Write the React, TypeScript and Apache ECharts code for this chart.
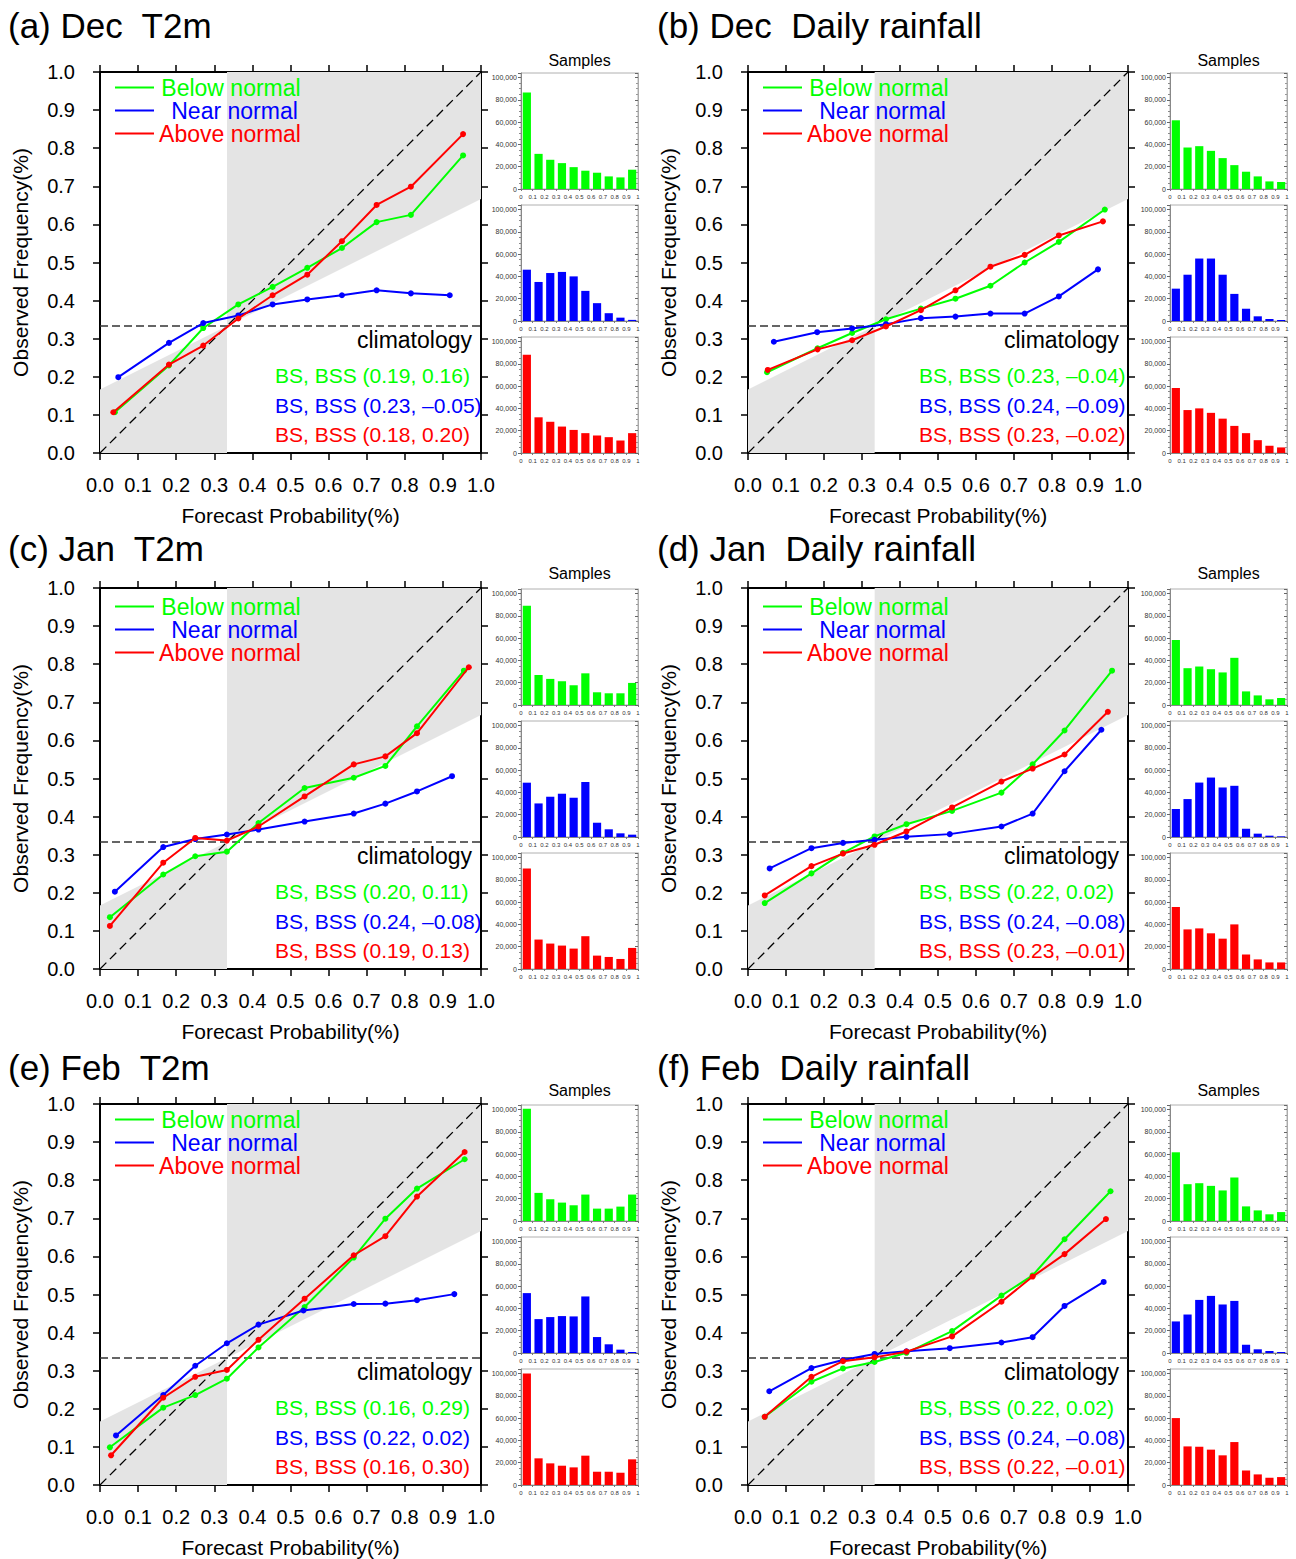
import React, { useEffect, useRef } from 'react';
import * as echarts from 'echarts';

const FONT = '"Liberation Sans", Arial, Helvetica, sans-serif';
const CLIM = 1 / 3;
const CAT_NAMES = ['Below normal', 'Near normal', 'Above normal'];
const CAT_COLORS = ['#00ff00', '#0000ff', '#ff0000'];
const SHADE = '#e4e4e4';
const PANEL_TITLES = [
  '(a) Dec  T2m', '(b) Dec  Daily rainfall',
  '(c) Jan  T2m', '(d) Jan  Daily rainfall',
  '(e) Feb  T2m', '(f) Feb  Daily rainfall',
];
const HIST_BINS = [0.05, 0.15, 0.25, 0.35, 0.45, 0.55, 0.65, 0.75, 0.85, 0.95];

// (a) Dec T2m
const decT2mBelowX = [0.039, 0.181, 0.271, 0.363, 0.453, 0.544, 0.635, 0.726, 0.816, 0.953];
const decT2mBelowY = [0.107, 0.230, 0.328, 0.390, 0.436, 0.486, 0.538, 0.606, 0.625, 0.781];
const decT2mNearX = [0.048, 0.181, 0.271, 0.363, 0.453, 0.544, 0.635, 0.726, 0.816, 0.918];
const decT2mNearY = [0.199, 0.289, 0.341, 0.361, 0.390, 0.403, 0.414, 0.427, 0.419, 0.414];
const decT2mAboveX = [0.035, 0.181, 0.271, 0.363, 0.453, 0.544, 0.635, 0.726, 0.816, 0.953];
const decT2mAboveY = [0.107, 0.232, 0.282, 0.353, 0.414, 0.468, 0.556, 0.651, 0.699, 0.837];
const decT2mBS = ['BS, BSS (0.19, 0.16)', 'BS, BSS (0.23, –0.05)', 'BS, BSS (0.18, 0.20)'];
const decT2mHistBelow = [86600, 31500, 26200, 23200, 19600, 16400, 14600, 11300, 10400, 17300];
const decT2mHistNear = [46000, 35000, 43000, 44000, 40000, 27000, 16000, 7000, 3000, 1000];
const decT2mHistAbove = [88000, 32000, 28000, 23700, 20700, 17800, 15700, 14200, 11200, 17800];

// (b) Dec Daily rainfall
const decRainBelowX = [0.050, 0.183, 0.274, 0.363, 0.455, 0.546, 0.638, 0.728, 0.818, 0.939];
const decRainBelowY = [0.212, 0.275, 0.315, 0.351, 0.379, 0.405, 0.439, 0.500, 0.554, 0.639];
const decRainNearX = [0.068, 0.182, 0.274, 0.363, 0.455, 0.546, 0.638, 0.728, 0.818, 0.921];
const decRainNearY = [0.292, 0.317, 0.327, 0.338, 0.354, 0.358, 0.366, 0.366, 0.411, 0.482];
const decRainAboveX = [0.052, 0.183, 0.274, 0.363, 0.455, 0.546, 0.638, 0.728, 0.818, 0.934];
const decRainAboveY = [0.218, 0.272, 0.296, 0.332, 0.375, 0.427, 0.489, 0.520, 0.571, 0.608];
const decRainBS = ['BS, BSS (0.23, –0.04)', 'BS, BSS (0.24, –0.09)', 'BS, BSS (0.23, –0.02)'];
const decRainHistBelow = [61600, 37200, 38400, 34200, 27700, 21400, 15500, 11300, 6800, 6300];
const decRainHistNear = [29000, 41500, 56000, 56000, 41500, 24300, 11000, 4200, 1800, 900];
const decRainHistAbove = [58300, 38500, 40000, 36000, 30800, 24300, 17800, 11500, 6500, 5000];

// (c) Jan T2m
const janT2mBelowX = [0.026, 0.166, 0.250, 0.333, 0.416, 0.537, 0.666, 0.749, 0.832, 0.955];
const janT2mBelowY = [0.136, 0.248, 0.296, 0.308, 0.383, 0.475, 0.502, 0.533, 0.637, 0.783];
const janT2mNearX = [0.039, 0.166, 0.250, 0.333, 0.416, 0.537, 0.666, 0.749, 0.832, 0.924];
const janT2mNearY = [0.203, 0.320, 0.341, 0.353, 0.366, 0.387, 0.408, 0.434, 0.466, 0.506];
const janT2mAboveX = [0.026, 0.166, 0.250, 0.333, 0.416, 0.537, 0.666, 0.749, 0.832, 0.968];
const janT2mAboveY = [0.113, 0.279, 0.344, 0.337, 0.374, 0.453, 0.537, 0.558, 0.619, 0.792];
const janT2mBS = ['BS, BSS (0.20, 0.11)', 'BS, BSS (0.24, –0.08)', 'BS, BSS (0.19, 0.13)'];
const janT2mHistBelow = [88900, 26900, 23400, 21300, 17700, 28400, 11400, 10500, 10500, 19800];
const janT2mHistNear = [48700, 30100, 36100, 38800, 35200, 49300, 12800, 6900, 3300, 2100];
const janT2mHistAbove = [90000, 26400, 22800, 21000, 18300, 29400, 12000, 10800, 9000, 18900];

// (d) Jan Daily rainfall
const janRainBelowX = [0.044, 0.167, 0.250, 0.333, 0.417, 0.537, 0.667, 0.749, 0.833, 0.958];
const janRainBelowY = [0.173, 0.251, 0.305, 0.348, 0.380, 0.415, 0.463, 0.537, 0.626, 0.783];
const janRainNearX = [0.057, 0.167, 0.250, 0.333, 0.417, 0.531, 0.667, 0.749, 0.833, 0.930];
const janRainNearY = [0.264, 0.317, 0.331, 0.339, 0.347, 0.354, 0.374, 0.408, 0.519, 0.628];
const janRainAboveX = [0.044, 0.167, 0.250, 0.333, 0.417, 0.537, 0.667, 0.749, 0.833, 0.947];
const janRainAboveY = [0.193, 0.270, 0.303, 0.326, 0.361, 0.424, 0.492, 0.526, 0.563, 0.675];
const janRainBS = ['BS, BSS (0.22, 0.02)', 'BS, BSS (0.24, –0.08)', 'BS, BSS (0.23, –0.01)'];
const janRainHistBelow = [58300, 33000, 34500, 32100, 29200, 42300, 12200, 8600, 5100, 6300];
const janRainHistNear = [25100, 34000, 48800, 53300, 44400, 45900, 7400, 3000, 1200, 600];
const janRainHistAbove = [55600, 35500, 36400, 32000, 27200, 40000, 13000, 8600, 5900, 5900];

// (e) Feb T2m
const febT2mBelowX = [0.026, 0.166, 0.250, 0.333, 0.416, 0.537, 0.666, 0.749, 0.832, 0.957];
const febT2mBelowY = [0.099, 0.203, 0.236, 0.279, 0.361, 0.467, 0.597, 0.699, 0.778, 0.855];
const febT2mNearX = [0.042, 0.166, 0.250, 0.333, 0.416, 0.534, 0.666, 0.749, 0.832, 0.930];
const febT2mNearY = [0.130, 0.236, 0.313, 0.372, 0.421, 0.458, 0.475, 0.476, 0.485, 0.501];
const febT2mAboveX = [0.029, 0.166, 0.250, 0.333, 0.416, 0.537, 0.666, 0.749, 0.832, 0.957];
const febT2mAboveY = [0.078, 0.229, 0.284, 0.302, 0.381, 0.489, 0.603, 0.653, 0.757, 0.874];
const febT2mBS = ['BS, BSS (0.16, 0.29)', 'BS, BSS (0.22, 0.02)', 'BS, BSS (0.16, 0.30)'];
const febT2mHistBelow = [100600, 25200, 19500, 16500, 14100, 23700, 11100, 11100, 12900, 23700];
const febT2mHistNear = [53700, 30400, 32200, 33100, 32800, 50700, 14300, 7800, 3000, 900];
const febT2mHistAbove = [100000, 23900, 19400, 17300, 15800, 26300, 11900, 11900, 11000, 23000];

// (f) Feb Daily rainfall
const febRainBelowX = [0.044, 0.167, 0.250, 0.333, 0.417, 0.537, 0.667, 0.749, 0.833, 0.954];
const febRainBelowY = [0.179, 0.271, 0.306, 0.323, 0.347, 0.404, 0.497, 0.550, 0.645, 0.771];
const febRainNearX = [0.056, 0.167, 0.250, 0.333, 0.417, 0.531, 0.667, 0.749, 0.833, 0.936];
const febRainNearY = [0.246, 0.307, 0.328, 0.344, 0.351, 0.359, 0.374, 0.388, 0.470, 0.533];
const febRainAboveX = [0.044, 0.167, 0.250, 0.333, 0.417, 0.537, 0.667, 0.749, 0.833, 0.942];
const febRainAboveY = [0.179, 0.284, 0.325, 0.335, 0.350, 0.390, 0.481, 0.547, 0.606, 0.698];
const febRainBS = ['BS, BSS (0.22, 0.02)', 'BS, BSS (0.24, –0.08)', 'BS, BSS (0.22, –0.01)'];
const febRainHistBelow = [61600, 33000, 33900, 31500, 27400, 39000, 13100, 9500, 6000, 8000];
const febRainHistNear = [28300, 34500, 47600, 51200, 43500, 46700, 7400, 3300, 1800, 900];
const febRainHistAbove = [60000, 34600, 34300, 31700, 26600, 38500, 13000, 9500, 6500, 7100];

const PANELS = [
  { title: PANEL_TITLES[0], xs: [decT2mBelowX, decT2mNearX, decT2mAboveX], ys: [decT2mBelowY, decT2mNearY, decT2mAboveY], bs: decT2mBS, hist: [decT2mHistBelow, decT2mHistNear, decT2mHistAbove] },
  { title: PANEL_TITLES[1], xs: [decRainBelowX, decRainNearX, decRainAboveX], ys: [decRainBelowY, decRainNearY, decRainAboveY], bs: decRainBS, hist: [decRainHistBelow, decRainHistNear, decRainHistAbove] },
  { title: PANEL_TITLES[2], xs: [janT2mBelowX, janT2mNearX, janT2mAboveX], ys: [janT2mBelowY, janT2mNearY, janT2mAboveY], bs: janT2mBS, hist: [janT2mHistBelow, janT2mHistNear, janT2mHistAbove] },
  { title: PANEL_TITLES[3], xs: [janRainBelowX, janRainNearX, janRainAboveX], ys: [janRainBelowY, janRainNearY, janRainAboveY], bs: janRainBS, hist: [janRainHistBelow, janRainHistNear, janRainHistAbove] },
  { title: PANEL_TITLES[4], xs: [febT2mBelowX, febT2mNearX, febT2mAboveX], ys: [febT2mBelowY, febT2mNearY, febT2mAboveY], bs: febT2mBS, hist: [febT2mHistBelow, febT2mHistNear, febT2mHistAbove] },
  { title: PANEL_TITLES[5], xs: [febRainBelowX, febRainNearX, febRainAboveX], ys: [febRainBelowY, febRainNearY, febRainAboveY], bs: febRainBS, hist: [febRainHistBelow, febRainHistNear, febRainHistAbove] },
];

// layout
const COL_X = [100, 748];
const COL_W = [381, 380];
const ROW_Y = [72, 588, 1104];
const PLOT_H = 381;
const HIST_X = [521, 1170];
const HIST_W = 117;
const HIST_H = 116;
const HIST_OFF = [1, 133, 265];
const TITLE_X = [8, 657];
const TITLE_Y = [25, 548, 1067];
const SAMPLES_Y = [60, 573, 1090];
const LEGEND_OFF = [15.5, 18.5, 15.5];
const LEGEND_TEXT_CX = [131, 134.5, 130];
const BS_LEFT = [175, 171];

function txt(x: number, y: number, text: string, fontSize: number, fill: string, align = 'left', vAlign = 'middle') {
  return {
    type: 'text', x, y, silent: true, z: 100,
    style: {
      text, fill, fontSize, fontFamily: FONT,
      align, verticalAlign: vAlign, textAlign: align, textVerticalAlign: vAlign,
    },
  };
}

function withCommas(v: number) {
  return String(v).replace(/\B(?=(\d{3})+(?!\d))/g, ',');
}

function buildOption() {
  const grid: any[] = [];
  const xAxis: any[] = [];
  const yAxis: any[] = [];
  const series: any[] = [];
  const graphic: any[] = [];

  const mainLine = { show: true, onZero: false, lineStyle: { color: '#000', width: 2 } };
  const mainTick = { show: true, inside: false, length: 7, lineStyle: { color: '#000', width: 1.5 } };
  const mainLabel = { fontSize: 20, color: '#000', fontFamily: FONT, formatter: (v: number) => v.toFixed(1) };

  PANELS.forEach((p, i) => {
    const col = i % 2;
    const row = Math.floor(i / 2);
    const L = COL_X[col];
    const W = COL_W[col];
    const T = ROW_Y[row];

    const gMain = grid.length;
    grid.push({ left: L, top: T, width: W, height: PLOT_H, show: false });
    const xb = xAxis.length;
    xAxis.push({
      type: 'value', gridIndex: gMain, min: 0, max: 1, interval: 0.1, position: 'bottom',
      axisLine: mainLine, axisTick: mainTick, splitLine: { show: false },
      axisLabel: { ...mainLabel, margin: 22 },
      name: 'Forecast Probability(%)', nameLocation: 'middle', nameGap: 52,
      nameTextStyle: { fontSize: 21, color: '#000', fontFamily: FONT },
    });
    xAxis.push({
      type: 'value', gridIndex: gMain, min: 0, max: 1, interval: 0.1, position: 'top',
      axisLine: mainLine, axisTick: mainTick, splitLine: { show: false }, axisLabel: { show: false },
    });
    const yl = yAxis.length;
    yAxis.push({
      type: 'value', gridIndex: gMain, min: 0, max: 1, interval: 0.1, position: 'left',
      axisLine: mainLine, axisTick: mainTick, splitLine: { show: false },
      axisLabel: { ...mainLabel, margin: 25 },
      name: 'Observed Frequency(%)', nameLocation: 'middle', nameGap: 69,
      nameTextStyle: { fontSize: 21, color: '#000', fontFamily: FONT },
    });
    yAxis.push({
      type: 'value', gridIndex: gMain, min: 0, max: 1, interval: 0.1, position: 'right',
      axisLine: mainLine, axisTick: mainTick, splitLine: { show: false }, axisLabel: { show: false },
    });

    // skill shading
    series.push({
      type: 'custom', xAxisIndex: xb, yAxisIndex: yl, silent: true, z: 1,
      data: [[0, 0]],
      renderItem: (_params: any, api: any) => {
        const P = (x: number, y: number) => api.coord([x, y]);
        const c = CLIM;
        return {
          type: 'group',
          children: [
            { type: 'polygon', shape: { points: [P(0, 0), P(c, 0), P(c, c), P(0, c / 2)] }, style: { fill: SHADE } },
            { type: 'polygon', shape: { points: [P(c, c), P(1, (1 + c) / 2), P(1, 1), P(c, 1)] }, style: { fill: SHADE } },
          ],
        };
      },
    });
    // perfect reliability diagonal
    series.push({
      type: 'line', xAxisIndex: xb, yAxisIndex: yl, silent: true, z: 2, symbol: 'none',
      data: [[0, 0], [1, 1]],
      lineStyle: { color: '#000', width: 1.3, type: [9, 5] },
    });
    // climatology
    series.push({
      type: 'line', xAxisIndex: xb, yAxisIndex: yl, silent: true, z: 2, symbol: 'none',
      data: [[0, CLIM], [1, CLIM]],
      lineStyle: { color: '#333', width: 1.3, type: [8, 4] },
    });
    for (let k = 0; k < 3; k++) {
      series.push({
        type: 'line', name: CAT_NAMES[k], xAxisIndex: xb, yAxisIndex: yl, z: 3 + k,
        data: p.xs[k].map((x, j) => [x, p.ys[k][j]]),
        symbol: 'circle', symbolSize: 6, showSymbol: true,
        lineStyle: { color: CAT_COLORS[k], width: 2 },
        itemStyle: { color: CAT_COLORS[k] },
      });
    }

    // histograms
    for (let k = 0; k < 3; k++) {
      const g = grid.length;
      grid.push({
        left: HIST_X[col], top: T + HIST_OFF[k], width: HIST_W, height: HIST_H,
        show: true, borderColor: '#b0b0b0', borderWidth: 1, backgroundColor: 'transparent',
      });
      const xi = xAxis.length;
      xAxis.push({
        type: 'value', gridIndex: g, min: 0, max: 1, interval: 0.1,
        axisLine: { show: true, onZero: false, lineStyle: { color: '#888', width: 1 } },
        axisTick: { show: true, length: 2, lineStyle: { color: '#777' } },
        splitLine: { show: false },
        axisLabel: {
          fontSize: 6, color: '#333', margin: 5, fontFamily: FONT,
          formatter: (v: number) => (v === 0 ? '0' : v === 1 ? '1' : v.toFixed(1)),
        },
      });
      const yi = yAxis.length;
      yAxis.push({
        type: 'value', gridIndex: g, min: 0, max: 104000, interval: 20000, position: 'left',
        axisLine: { show: true, onZero: false, lineStyle: { color: '#888', width: 1 } },
        axisTick: { show: true, length: 3, lineStyle: { color: '#666' } },
        minorTick: { show: true, splitNumber: 4, length: 2, lineStyle: { color: '#888' } },
        splitLine: { show: false },
        axisLabel: {
          fontSize: 7, color: '#333', margin: 4, fontFamily: FONT,
          formatter: (v: number) => (v % 20000 === 0 ? withCommas(v) : ''),
        },
      });
      yAxis.push({
        type: 'value', gridIndex: g, min: 0, max: 104000, interval: 20000, position: 'right',
        axisLine: { show: true, onZero: false, lineStyle: { color: '#aaa', width: 1 } },
        axisTick: { show: true, inside: true, length: 3, lineStyle: { color: '#666' } },
        minorTick: { show: true, splitNumber: 4, length: 2, lineStyle: { color: '#999' } },
        splitLine: { show: false }, axisLabel: { show: false },
      });
      series.push({
        type: 'bar', xAxisIndex: xi, yAxisIndex: yi, silent: true,
        data: HIST_BINS.map((b, j) => [b, p.hist[k][j]]),
        barWidth: '70%',
        itemStyle: { color: CAT_COLORS[k] },
      });
    }

    // texts
    graphic.push(txt(TITLE_X[col], TITLE_Y[row], p.title, 35, '#000'));
    graphic.push(txt(HIST_X[col] + HIST_W / 2, SAMPLES_Y[row], 'Samples', 16, '#000', 'center'));
    for (let k = 0; k < 3; k++) {
      const ly = T + LEGEND_OFF[row] + k * 23;
      graphic.push({
        type: 'line', silent: true, z: 100,
        shape: { x1: L + 15, y1: ly, x2: L + 54, y2: ly },
        style: { stroke: CAT_COLORS[k], lineWidth: 2 },
      });
      graphic.push(txt(L + LEGEND_TEXT_CX[k], ly, CAT_NAMES[k], 23, CAT_COLORS[k], 'center'));
    }
    graphic.push(txt(L + W - 9, T + 268, 'climatology', 23, '#000', 'right'));
    for (let k = 0; k < 3; k++) {
      graphic.push(txt(L + BS_LEFT[col], T + 303.5 + k * 29.5, p.bs[k], 21, CAT_COLORS[k], 'left'));
    }
  });

  return {
    animation: false,
    backgroundColor: '#fff',
    textStyle: { fontFamily: FONT },
    grid, xAxis, yAxis, series, graphic,
  };
}

export default function App() {
  const ref = useRef<HTMLDivElement>(null);
  useEffect(() => {
    if (!ref.current) return;
    const chart = echarts.init(ref.current, null, { renderer: 'svg' });
    chart.setOption(buildOption() as any);
    return () => chart.dispose();
  }, []);
  return (
    <div
      ref={ref}
      style={{ position: 'absolute', left: 0, top: 0, width: 1296, height: 1559, background: '#fff' }}
    />
  );
}
